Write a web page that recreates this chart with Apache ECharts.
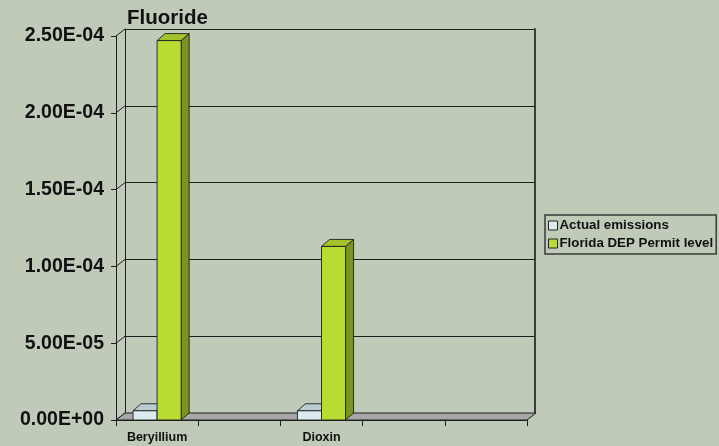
<!DOCTYPE html>
<html>
<head>
<meta charset="utf-8">
<script src="https://cdn.jsdelivr.net/npm/echarts@6/dist/echarts.min.js"></script>
<style>
html,body{margin:0;padding:0;background:#bfcab9;}
#chart{width:719px;height:446px;}
</style>
</head>
<body>
<div id="chart"></div>
<script>
// ---- data ----
const categories = ['Beryillium', '', 'Dioxin', '', ''];
const actualEmissions = [6.0e-6, null, 6.0e-6, null, null];
const permitLevel = [2.47e-4, null, 1.13e-4, null, null];
const seriesNames = ['Actual emissions', 'Florida DEP Permit level'];
const yTicks = [0, 5e-5, 1e-4, 1.5e-4, 2e-4, 2.5e-4];
const titleText = 'Fluoride';

// ---- styling constants ----
const FONT = "'Liberation Sans', Arial, sans-serif";
const DX = 9, DY = -7;        // depth of the 3D box
const BDX = 8, BDY = -7;      // depth of each bar
const BAR_FRAC = 24 / 82;     // bar width relative to category slot
const EDGE = '#1e1e1e';

function fmtExp(v) {
  if (v === 0) return '0.00E+00';
  const parts = Number(v).toExponential(2).split('e');
  const e = parseInt(parts[1], 10);
  return parts[0] + 'E' + (e < 0 ? '-' : '+') + String(Math.abs(e)).padStart(2, '0');
}

function barRenderer(side, front, topC, sideC) {
  return function (params, api) {
    const ci = api.value(0), v = api.value(1);
    if (v == null || isNaN(v)) return null;
    const top = api.coord([ci, v]);
    const base = api.coord([ci, 0]);
    const slot = api.size([1, 0])[0];
    const bw = slot * BAR_FRAC;
    const cx = top[0];
    const x0 = side === 0 ? cx - bw : cx;
    const x1 = x0 + bw;
    const yt = top[1], yb = base[1];
    return {
      type: 'group',
      children: [
        { type: 'polygon', shape: { points: [[x1, yt], [x1 + BDX, yt + BDY], [x1 + BDX, yb + BDY], [x1, yb]] },
          style: { fill: sideC, stroke: EDGE, lineWidth: 0.9 } },
        { type: 'polygon', shape: { points: [[x0, yt], [x0 + BDX, yt + BDY], [x1 + BDX, yt + BDY], [x1, yt]] },
          style: { fill: topC, stroke: EDGE, lineWidth: 0.9 } },
        { type: 'rect', shape: { x: x0, y: yt, width: bw, height: yb - yt },
          style: { fill: front, stroke: EDGE, lineWidth: 0.9 } }
      ]
    };
  };
}

const chart = echarts.init(document.getElementById('chart'), null, { renderer: 'canvas' });

const option = {
  backgroundColor: '#bfcab9',
  animation: false,
  title: {
    text: titleText, left: 122, top: 3,
    textStyle: { fontFamily: FONT, fontWeight: 'bold', fontSize: 20.5, color: '#111' }
  },
  legend: {
    orient: 'vertical', left: 545, top: 215,
    padding: [4, 3, 4, 3], itemGap: 5, itemWidth: 9, itemHeight: 9,
    borderColor: '#3a3d38', borderWidth: 1.5,
    icon: 'rect',
    data: seriesNames,
    itemStyle: { borderColor: '#222', borderWidth: 1 },
    textStyle: { fontFamily: FONT, fontWeight: 'bold', fontSize: 13.3, color: '#111', padding: [0, 0, 0, -3] }
  },
  grid: [
    { left: 116, right: 192, top: 36, bottom: 26 },   // front plane
    { left: 125, right: 184, top: 29, bottom: 33 }    // back wall
  ],
  xAxis: [
    {
      type: 'category', gridIndex: 0, data: categories, boundaryGap: true,
      axisLine: { show: true, lineStyle: { color: EDGE, width: 1 } },
      axisTick: { show: true, length: 6, interval: 0, lineStyle: { color: EDGE } },
      axisLabel: { interval: 0, margin: 11, fontFamily: FONT, fontWeight: 'bold', fontSize: 12.5, color: '#111' },
      splitLine: { show: false }
    },
    {
      type: 'category', gridIndex: 1, data: categories, boundaryGap: true,
      axisLine: { show: false }, axisTick: { show: false }, axisLabel: { show: false }, splitLine: { show: false }
    }
  ],
  yAxis: [
    {
      type: 'value', gridIndex: 0, min: 0, max: yTicks[yTicks.length - 1], interval: yTicks[1] - yTicks[0],
      axisLine: { show: true, lineStyle: { color: EDGE, width: 1 } },
      axisTick: { show: true, length: 5, lineStyle: { color: EDGE } },
      axisLabel: { margin: 12, formatter: fmtExp, fontFamily: FONT, fontWeight: 'bold', fontSize: 19.5, color: '#111' },
      splitLine: { show: false }
    },
    {
      type: 'value', gridIndex: 1, min: 0, max: yTicks[yTicks.length - 1], interval: yTicks[1] - yTicks[0],
      axisLine: { show: true, lineStyle: { color: EDGE, width: 1 } },
      axisTick: { show: false }, axisLabel: { show: false },
      splitLine: { show: true, lineStyle: { color: EDGE, width: 1 } }
    },
    {
      type: 'value', gridIndex: 1, position: 'right', min: 0, max: yTicks[yTicks.length - 1],
      axisLine: { show: true, onZero: false, lineStyle: { color: '#3a3f38', width: 2 } },
      axisTick: { show: false }, axisLabel: { show: false }, splitLine: { show: false }
    }
  ],
  series: [
    {
      // side-wall gridlines linking front ticks to back wall
      type: 'custom', xAxisIndex: 0, yAxisIndex: 0, silent: true, clip: false, z: 1,
      data: yTicks.map(function (v) { return [0, v]; }),
      encode: { x: 0, y: 1 },
      renderItem: function (params, api) {
        const y = api.coord([0, api.value(1)])[1];
        const x = params.coordSys.x;
        return { type: 'line', shape: { x1: x, y1: y, x2: x + DX, y2: y + DY },
                 style: { stroke: EDGE, lineWidth: 1 } };
      }
    },
    {
      // floor
      type: 'custom', xAxisIndex: 0, yAxisIndex: 0, silent: true, clip: false, z: 2,
      data: [[0, 0]],
      encode: { x: 0, y: 1 },
      renderItem: function (params, api) {
        const cs = params.coordSys;
        const yf = api.coord([0, 0])[1];
        const x = cs.x, w = cs.width;
        return { type: 'polygon',
                 shape: { points: [[x, yf], [x + w, yf], [x + w + DX, yf + DY], [x + DX, yf + DY]] },
                 style: { fill: '#a7a7a7', stroke: EDGE, lineWidth: 1 } };
      }
    },
    {
      name: seriesNames[0], type: 'custom', xAxisIndex: 0, yAxisIndex: 0, clip: false, z: 3,
      itemStyle: { color: '#dcebef' },
      data: actualEmissions.map(function (v, i) { return [i, v]; }).filter(function (d) { return d[1] != null; }),
      encode: { x: 0, y: 1 },
      renderItem: barRenderer(0, '#dcebef', '#b9cdd2', '#9fb3b8')
    },
    {
      name: seriesNames[1], type: 'custom', xAxisIndex: 0, yAxisIndex: 0, clip: false, z: 4,
      itemStyle: { color: '#b9dc33' },
      data: permitLevel.map(function (v, i) { return [i, v]; }).filter(function (d) { return d[1] != null; }),
      encode: { x: 0, y: 1 },
      renderItem: barRenderer(1, '#b9dc33', '#a3c32c', '#7c9423')
    }
  ]
};
chart.setOption(option);
</script>
</body>
</html>
